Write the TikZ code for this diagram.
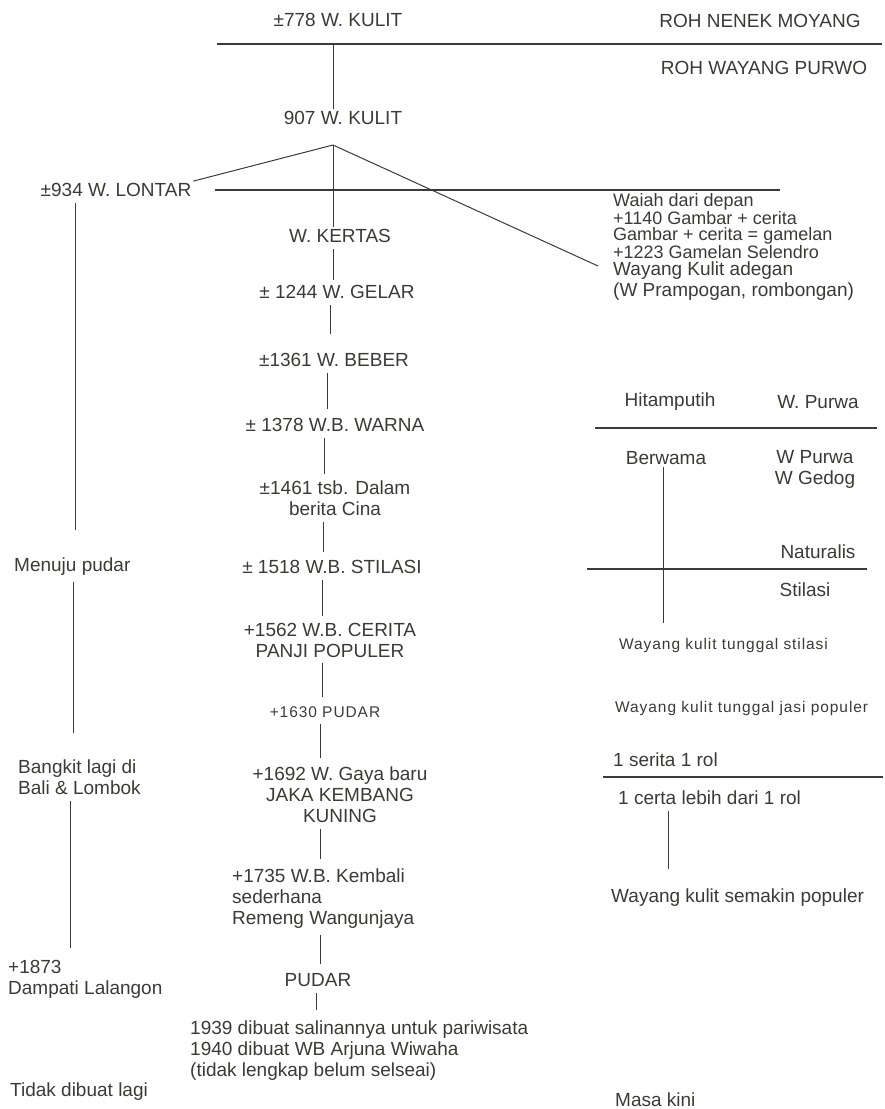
\documentclass[tikz,border=0pt]{standalone}
\usepackage{fontspec}
\setmainfont{Liberation Sans}
\definecolor{ink}{HTML}{3A3A36}

\begin{document}
\begin{tikzpicture}[x=1pt, y=-1pt,
txt/.style={inner sep=2pt, text=ink, font=\fontsize{19}{21}\selectfont},
small/.style={txt, font=\fontsize{15.5}{18}\selectfont\addfontfeature{LetterSpace=6}},
left/.style={txt, align=left, anchor=west},
stack/.style={txt, align=center},
link/.style={draw=ink, line width=1pt},
rule/.style={draw=ink, line width=1.2pt}]

%% page frame
\useasboundingbox (0,0) rectangle (885,1109);

%% local variables
\def \gap {4pt}

%% top part
\node[txt] (k778) at (338,20) {±778 W. KULIT};
\node[txt] (roh1) at (760,21) {ROH NENEK MOYANG};
\node[txt] (roh2) at (764,68) {ROH WAYANG PURWO};
\node[txt] (k907) at (343,118) {907 W. KULIT};

\coordinate (topL) at (217,44);
\coordinate (topR) at (882,44);
\coordinate (stem) at (333,44);
\coordinate (fork) at (333,145);
\coordinate (midL) at (215,190);
\coordinate (midR) at (780,190);
\coordinate (tip) at (598,266);

\draw[rule] (topL) -- (topR);
\draw[link] (stem) -- (stem |- k907.north);

%% left column
\node[txt] (lontar) at (116,190) {±934 W. LONTAR};
\node[txt, anchor=west] (menuju) at (12,567) {Menuju pudar};
\node[left] (bangkit) at (16,777) {Bangkit lagi di\\Bali \& Lombok};
\node[left] (dampati) at (6,979) {+1873\\Dampati Lalangon};
\node[txt, anchor=west] (tidak) at (8,1092) {Tidak dibuat lagi};

%% middle column
\node[txt] (kertas) at (340,236) {W. KERTAS};
\node[txt] (gelar) at (337,292) {± 1244 W. GELAR};
\node[txt] (beber) at (334,360) {±1361 W. BEBER};
\node[txt] (warna) at (335,425) {± 1378 W.B. WARNA};
\node[stack] (dalam) at (335,498) {±1461 tsb. Dalam\\berita Cina};
\node[txt] (stilasi) at (332,567) {± 1518 W.B. STILASI};
\node[stack] (cerita) at (330,640) {+1562 W.B. CERITA\\PANJI POPULER};
\node[small] (pudarA) at (325,712) {+1630 PUDAR};
\node[stack] (gaya) at (340,795) {+1692 W. Gaya baru\\JAKA KEMBANG\\KUNING};
\node[left] (kembali) at (230,899) {+1735 W.B. Kembali\\sederhana\\Remeng Wangunjaya};
\node[txt] (pudarB) at (318,980) {PUDAR};
\node[left] (salinan) at (188,1051) {1939 dibuat salinannya untuk pariwisata\\1940 dibuat WB Arjuna Wiwaha\\(tidak lengkap belum selseai)};

%% right column
\node[left, font=\fontsize{18}{16.5}\selectfont] (wajah) at (611,226)
  {Waiah dari depan\\+1140 Gambar + cerita\\Gambar + cerita = gamelan\\+1223 Gamelan Selendro};
\node[left] (adegan) at (611,281) {Wayang Kulit adegan\\(W Prampogan, rombongan)};
\node[txt] (hitam) at (670,402) {Hitamputih};
\node[txt] (wpurwa) at (818,402) {W. Purwa};
\node[txt] (berwarna) at (666,458) {Berwama};
\node[stack] (gedog) at (815,469) {W Purwa\\W Gedog};
\node[txt] (naturalis) at (818,552) {Naturalis};
\node[txt] (stilasiB) at (805,590) {Stilasi};
\node[small, anchor=west] (tunggalA) at (617,645) {Wayang kulit tunggal stilasi};
\node[small, anchor=west] (tunggalB) at (613,708) {Wayang kulit tunggal jasi populer};
\node[txt, anchor=west] (serita) at (611,760) {1 serita 1 rol};
\node[txt, anchor=west] (certa) at (616,798) {1 certa lebih dari 1 rol};
\node[txt, anchor=west] (semakin) at (609,898) {Wayang kulit semakin populer};
\node[txt, anchor=west] (masa) at (613,1100) {Masa kini};

\coordinate (hitL) at (595,428);
\coordinate (hitR) at (877,428);
\coordinate (natL) at (587,569);
\coordinate (natR) at (867,569);
\coordinate (berEnd) at (663,623);
\coordinate (serL) at (603,777);
\coordinate (serR) at (883,777);

%% branching under 907
\draw[rule] (midL) -- (midR);
\draw[link] (fork) -- (lontar.north east);
\draw[link] (fork) -- (tip);
\draw[link] (fork) -- (fork |- kertas.north);

%% left line
\foreach \a/\b/\x/\g in {lontar/menuju/75/26, menuju/bangkit/73/24, bangkit/dampati/70/10}
      \draw[link, shorten <=\gap, shorten >=\g pt] (\a.south -| \x,0) -- (\b.north -| \x,0);

%% middle line
\foreach \a/\b/\x/\g in {kertas/gelar/333/3, gelar/beber/330/17, beber/warna/327/7,
      warna/dalam/324/4, dalam/stilasi/323/6, stilasi/cerita/322/5, cerita/pudarA/322/7,
      pudarA/gaya/320/7, gaya/kembali/320/8, kembali/pudarB/320/7, pudarB/salinan/316/9}
      \draw[link, shorten <=\gap, shorten >=\g pt] (\a.south -| \x,0) -- (\b.north -| \x,0);

%% right part
\draw[rule] (hitL) -- (hitR);
\draw[rule] (natL) -- (natR);
\draw[rule] (serL) -- (serR);
\draw[link] (berwarna.south -| berEnd) -- (berEnd);
\draw[link, shorten <=\gap, shorten >=18pt] (certa.south -| 668,0) -- (semakin.north -| 668,0);

\end{tikzpicture}
\end{document}
